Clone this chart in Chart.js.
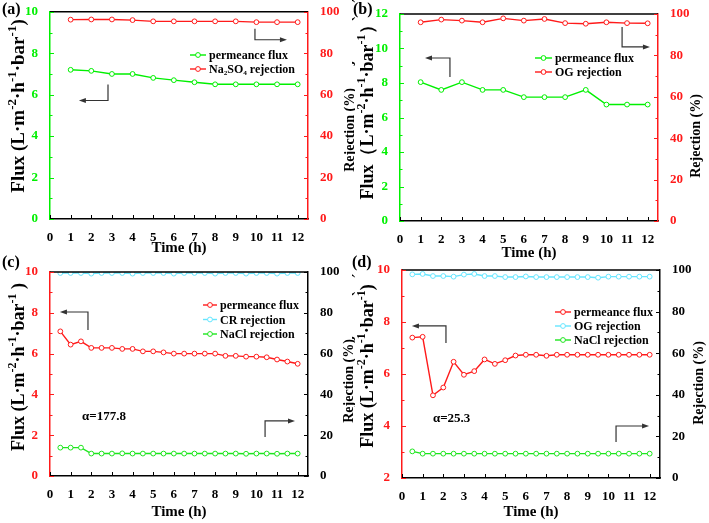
<!DOCTYPE html>
<html>
<head>
<meta charset="utf-8">
<script src="https://cdn.jsdelivr.net/npm/chart.js@4.4.0/dist/chart.umd.min.js"></script>
<style>
  body { margin: 0; background: #ffffff; width: 709px; height: 523px; position: relative; overflow: hidden; }
  canvas { position: absolute; }
  .tag { position: absolute; font: bold 16px "Liberation Serif", "Times New Roman", serif; color: #000; }
</style>
</head>
<body>
<canvas id="panelA" width="355" height="258" style="left:0px;top:0px"></canvas>
<canvas id="panelB" width="357" height="262" style="left:352px;top:0px"></canvas>
<canvas id="panelC" width="355" height="267" style="left:0px;top:256px"></canvas>
<canvas id="panelD" width="357" height="267" style="left:352px;top:256px"></canvas>
<div class="tag" style="left:2px;top:0px">(a)</div>
<div class="tag" style="left:353px;top:0px">(b)</div>
<div class="tag" style="left:2px;top:253px">(c)</div>
<div class="tag" style="left:352px;top:253px">(d)</div>
<script>
// time axis values and tick labels
const hoursHourly = [1, 2, 3, 4, 5, 6, 7, 8, 9, 10, 11, 12];
const hoursHalf = [0.5, 1, 1.5, 2, 2.5, 3, 3.5, 4, 4.5, 5, 5.5, 6, 6.5, 7, 7.5, 8, 8.5, 9, 9.5, 10, 10.5, 11, 11.5, 12];
const timeTicks = [0, 1, 2, 3, 4, 5, 6, 7, 8, 9, 10, 11, 12];

// (a) Na2SO4
const fluxA = [7.2, 7.15, 7.0, 7.0, 6.81, 6.7, 6.6, 6.5, 6.5, 6.5, 6.5, 6.5];
const rejNa2SO4A = [96.2, 96.3, 96.3, 96.0, 95.4, 95.4, 95.4, 95.4, 95.4, 95.0, 95.0, 95.0];

// (b) OG
const fluxB = [8.05, 7.6, 8.05, 7.6, 7.6, 7.18, 7.18, 7.18, 7.6, 6.75, 6.75, 6.75];
const rejOGB = [96.0, 97.3, 96.8, 96.0, 97.9, 96.8, 97.6, 95.6, 95.3, 96.0, 95.6, 95.5];

// (c) CR / NaCl
const fluxC = [7.09, 6.44, 6.6, 6.28, 6.28, 6.28, 6.23, 6.23, 6.11, 6.11, 6.06, 6.0, 6.0, 6.0, 6.0, 6.0, 5.89, 5.89, 5.85, 5.85, 5.82, 5.71, 5.61, 5.5];
const rejCRC = [99.5, 99.5, 99.5, 99.2, 99.5, 99.5, 99.5, 99.2, 99.5, 99.5, 99.5, 99.2, 99.5, 99.5, 99.5, 99.2, 99.5, 99.5, 99.2, 99.5, 99.5, 99.2, 99.5, 99.5];
const rejNaClC = [13.9, 13.9, 13.9, 11.0, 11.0, 11.0, 11.1, 11.0, 11.0, 11.0, 11.0, 11.0, 11.0, 11.0, 11.0, 11.0, 11.0, 11.0, 10.9, 11.0, 11.0, 10.9, 11.0, 11.0];

// (d) OG / NaCl
const fluxD = [7.4, 7.43, 5.18, 5.48, 6.47, 5.97, 6.11, 6.56, 6.39, 6.53, 6.71, 6.74, 6.74, 6.7, 6.74, 6.74, 6.74, 6.74, 6.74, 6.74, 6.74, 6.74, 6.74, 6.74];
const rejOGD = [97.9, 98.1, 97.1, 97.1, 96.8, 97.8, 98.1, 97.1, 97.1, 96.6, 96.6, 96.9, 96.6, 96.6, 96.6, 96.6, 96.6, 96.6, 96.3, 96.8, 96.8, 96.8, 96.8, 96.8];
const rejNaClD = [12.8, 11.7, 11.7, 11.7, 11.7, 11.7, 11.7, 11.7, 11.7, 11.7, 11.7, 11.7, 11.7, 11.7, 11.7, 11.7, 11.7, 11.7, 11.7, 11.7, 11.7, 11.7, 11.7, 11.7];

const serif = '"Liberation Serif", "Times New Roman", serif';
const LIME = '#00f000';
const RED = '#ff1a1a';
const CYAN = '#66e6ff';
const GREEN = '#1ee61e';
// ^...^ marks a superscript
const fluxTitle = 'Flux (L·m^-2^·h^-1^·bar^-1^)';

// rotated (bottom-to-top) title with raised superscripts
function drawVerticalTitle(ctx, title) {
    const parts = title.text.split('^').map((t, i) => ({ t, sup: i % 2 === 1 }));
    const base = title.size, small = Math.round(title.size * 0.66);
    let total = 0;
    parts.forEach(p => {
        ctx.font = 'bold ' + (p.sup ? small : base) + 'px ' + serif;
        p.w = ctx.measureText(p.t).width;
        total += p.w;
    });
    ctx.save();
    ctx.translate(title.x, title.y);
    ctx.rotate(-Math.PI / 2);
    ctx.fillStyle = '#000';
    ctx.textAlign = 'left';
    ctx.textBaseline = 'middle';
    let pos = -total / 2;
    parts.forEach(p => {
        ctx.font = 'bold ' + (p.sup ? small : base) + 'px ' + serif;
        ctx.fillText(p.t, pos, p.sup ? -base * 0.32 : 0);
        pos += p.w;
    });
    ctx.restore();
}

// inward ticks, top frame line, titles, arrows, legend and notes
const decor = {
    id: 'decor',
    afterDraw(chart, args, o) {
        const ctx = chart.ctx;
        const a = chart.chartArea;
        const sx = chart.scales.x;
        ctx.save();

        ctx.strokeStyle = '#000';
        ctx.lineWidth = 1.5;
        ctx.beginPath();
        ctx.moveTo(a.left, a.top);
        ctx.lineTo(a.right, a.top);
        ctx.stroke();

        ctx.lineWidth = 1;
        ctx.beginPath();
        sx.ticks.forEach(t => {
            const px = Math.round(sx.getPixelForValue(t.value)) + 0.5;
            ctx.moveTo(px, a.bottom);
            ctx.lineTo(px, a.bottom - 4);
        });
        ctx.stroke();

        [['y', 1, o.leftColor], ['y2', -1, o.rightColor]].forEach(([id, dir, color]) => {
            const s = chart.scales[id];
            const base = dir > 0 ? a.left : a.right;
            const step = s.ticks[1].value - s.ticks[0].value;
            ctx.strokeStyle = color;
            ctx.beginPath();
            s.ticks.forEach((t, i) => {
                const py = Math.round(s.getPixelForValue(t.value)) + 0.5;
                ctx.moveTo(base, py);
                ctx.lineTo(base + dir * 4, py);
                if (i < s.ticks.length - 1) {
                    const pm = Math.round(s.getPixelForValue(t.value + step / 2)) + 0.5;
                    ctx.moveTo(base, pm);
                    ctx.lineTo(base + dir * 2.5, pm);
                }
            });
            ctx.stroke();
        });

        (o.titles || []).forEach(t => drawVerticalTitle(ctx, t));

        // elbow arrows that point at the axis each series belongs to
        ctx.strokeStyle = '#333';
        ctx.fillStyle = '#333';
        ctx.lineWidth = 1.2;
        (o.arrows || []).forEach(ar => {
            const s = chart.scales[ar.axis];
            const x0 = sx.getPixelForValue(ar.x0);
            const x1 = sx.getPixelForValue(ar.x1);
            const y0 = s.getPixelForValue(ar.y0);
            const y1 = s.getPixelForValue(ar.y1);
            const d = x1 > x0 ? 1 : -1;
            ctx.beginPath();
            ctx.moveTo(x0, y0);
            ctx.lineTo(x0, y1);
            ctx.lineTo(x1 - d * 5, y1);
            ctx.stroke();
            ctx.beginPath();
            ctx.moveTo(x1, y1);
            ctx.lineTo(x1 - d * 7, y1 - 2.5);
            ctx.lineTo(x1 - d * 7, y1 + 2.5);
            ctx.closePath();
            ctx.fill();
        });

        ctx.font = 'bold 12px ' + serif;
        ctx.textBaseline = 'middle';
        ctx.textAlign = 'left';
        const lg = o.legend;
        chart.data.datasets.forEach((ds, i) => {
            const y = lg.top + i * lg.gap;
            ctx.strokeStyle = ds.borderColor;
            ctx.lineWidth = 1.4;
            ctx.beginPath();
            ctx.moveTo(lg.x0, y);
            ctx.lineTo(lg.x1, y);
            ctx.stroke();
            ctx.fillStyle = '#fff';
            ctx.lineWidth = 1;
            ctx.beginPath();
            ctx.arc((lg.x0 + lg.x1) / 2, y, 2.4, 0, Math.PI * 2);
            ctx.fill();
            ctx.stroke();
            ctx.fillStyle = '#000';
            ctx.fillText(ds.label, lg.tx, y + 1);
        });

        ctx.font = 'bold 13px ' + serif;
        (o.notes || []).forEach(n => {
            ctx.fillStyle = '#000';
            ctx.fillText(n.text, sx.getPixelForValue(n.x), chart.scales.y.getPixelForValue(n.y));
        });
        ctx.restore();
    }
};

function buildPanel(id, p) {
    const canvas = document.getElementById(id);
    const W = canvas.width, H = canvas.height;
    const tickFont = { family: serif, size: 13, weight: 'bold' };
    return new Chart(canvas, {
        type: 'line',
        data: {
            datasets: p.series.map(s => ({
                label: s.label,
                yAxisID: s.axis,
                data: s.x.map((h, i) => ({ x: h, y: s.y[i] })),
                borderColor: s.color,
                backgroundColor: s.color,
                borderWidth: 1.4,
                pointRadius: 2.4,
                pointBorderWidth: 1,
                pointBackgroundColor: '#ffffff',
                pointBorderColor: s.color,
                tension: 0
            }))
        },
        options: {
            responsive: false,
            animation: false,
            devicePixelRatio: 1,
            layout: { padding: { top: p.box.top, left: 0, right: 0, bottom: 0 } },
            plugins: {
                legend: { display: false },
                tooltip: { enabled: false },
                decor: { leftColor: p.leftColor, rightColor: p.rightColor, arrows: p.arrows, legend: p.legend, notes: p.notes, titles: p.titles }
            },
            scales: {
                x: {
                    type: 'linear', min: 0, max: 12.5,
                    grid: { display: false },
                    border: { color: '#000', width: 1.5 },
                    ticks: { autoSkip: false, color: '#000', font: tickFont, padding: 3, maxRotation: 0 },
                    afterBuildTicks: s => { s.ticks = timeTicks.map(v => ({ value: v })); },
                    afterFit: s => { s.height = H - p.box.bottom; },
                    title: { display: true, text: 'Time (h)', color: '#000', font: { family: serif, size: 15, weight: 'bold' }, padding: { top: 0, bottom: p.timePad } }
                },
                y: {
                    position: 'left', min: p.leftMin, max: p.leftMax,
                    grid: { display: false },
                    border: { color: p.leftColor, width: 1.5 },
                    ticks: { stepSize: 2, color: p.leftColor, font: tickFont, padding: 4 },
                    afterFit: s => { s.width = p.box.left; }
                },
                y2: {
                    position: 'right', min: 0, max: 100,
                    grid: { display: false },
                    border: { color: p.rightColor, width: 1.5 },
                    ticks: { stepSize: 20, color: p.rightText, font: tickFont, padding: 4 },
                    afterFit: s => { s.width = W - p.box.right; }
                }
            }
        },
        plugins: [decor]
    });
}

buildPanel('panelA', {
    box: { left: 50, right: 308, top: 11, bottom: 219 },
    timePad: 1,
    leftMin: 0, leftMax: 10, leftColor: LIME, rightColor: RED, rightText: RED,
    titles: [
        { text: fluxTitle, x: 19, y: 106, size: 19 },
        { text: 'Rejection (%)', x: 350, y: 130, size: 14 }
    ],
    series: [
        { label: 'permeance flux', axis: 'y', x: hoursHourly, y: fluxA, color: LIME },
        { label: 'Na₂SO₄ rejection', axis: 'y2', x: hoursHourly, y: rejNa2SO4A, color: RED }
    ],
    legend: { x0: 190, x1: 206, tx: 209, top: 55, gap: 14 },
    arrows: [
        { axis: 'y', x0: 2.81, y0: 6.49, y1: 5.72, x1: 1.4 },
        { axis: 'y2', x0: 9.93, y0: 91.8, y1: 86.5, x1: 11.48 }
    ]
});

buildPanel('panelB', {
    box: { left: 48, right: 306, top: 14, bottom: 221 },
    timePad: 0,
    leftMin: 0, leftMax: 12, leftColor: LIME, rightColor: RED, rightText: RED,
    titles: [
        { text: 'Rejection (%)', x: -4, y: 40, size: 14 },
        { text: 'Flux（L·m^-2^·h^-1^·bar^-1^）', x: 16, y: 108, size: 18 },
        { text: 'Rejection (%)', x: 344, y: 136, size: 14 }
    ],
    series: [
        { label: 'permeance flux', axis: 'y', x: hoursHourly, y: fluxB, color: LIME },
        { label: 'OG rejection', axis: 'y2', x: hoursHourly, y: rejOGB, color: RED }
    ],
    legend: { x0: 183, x1: 200, tx: 203, top: 58, gap: 14 },
    arrows: [
        { axis: 'y', x0: 2.42, y0: 8.35, y1: 9.45, x1: 1.21 },
        { axis: 'y2', x0: 10.76, y0: 93.7, y1: 84.1, x1: 12.11 }
    ]
});

buildPanel('panelC', {
    box: { left: 50, right: 308, top: 16, bottom: 220 },
    timePad: 2,
    leftMin: 0, leftMax: 10, leftColor: RED, rightColor: '#000', rightText: '#000',
    titles: [
        { text: 'Flux (L·m^-2^·h^-1^·bar^-1^ )', x: 19, y: 111, size: 18 },
        { text: 'Rejection (%)', x: 349, y: 125, size: 14 }
    ],
    series: [
        { label: 'permeance flux', axis: 'y', x: hoursHalf, y: fluxC, color: RED },
        { label: 'CR rejection', axis: 'y2', x: hoursHalf, y: rejCRC, color: CYAN },
        { label: 'NaCl rejection', axis: 'y2', x: hoursHalf, y: rejNaClC, color: GREEN }
    ],
    legend: { x0: 203, x1: 217, tx: 220, top: 49, gap: 14.5 },
    arrows: [
        { axis: 'y', x0: 1.84, y0: 7.16, y1: 8.04, x1: 0.48 },
        { axis: 'y2', x0: 10.42, y0: 19.1, y1: 27.0, x1: 11.87 }
    ],
    notes: [{ text: 'α=177.8', x: 1.55, y: 2.9 }]
});

buildPanel('panelD', {
    box: { left: 50, right: 308, top: 14, bottom: 222 },
    timePad: 2,
    leftMin: 2, leftMax: 10, leftColor: RED, rightColor: '#000', rightText: '#000',
    titles: [
        { text: 'Rejection (%)', x: -4, y: 59, size: 14 },
        { text: fluxTitle, x: 16, y: 110, size: 18 },
        { text: 'Rejection (%)', x: 347, y: 127, size: 14 }
    ],
    series: [
        { label: 'permeance flux', axis: 'y', x: hoursHalf, y: fluxD, color: RED },
        { label: 'OG rejection', axis: 'y2', x: hoursHalf, y: rejOGD, color: CYAN },
        { label: 'NaCl rejection', axis: 'y2', x: hoursHalf, y: rejNaClD, color: GREEN }
    ],
    legend: { x0: 203, x1: 219, tx: 222, top: 56, gap: 14 },
    arrows: [
        { axis: 'y', x0: 2.13, y0: 7.19, y1: 7.85, x1: 0.48 },
        { axis: 'y2', x0: 10.37, y0: 17.3, y1: 25.0, x1: 11.97 }
    ],
    notes: [{ text: 'α=25.3', x: 1.5, y: 4.27 }]
});
</script>
</body>
</html>
